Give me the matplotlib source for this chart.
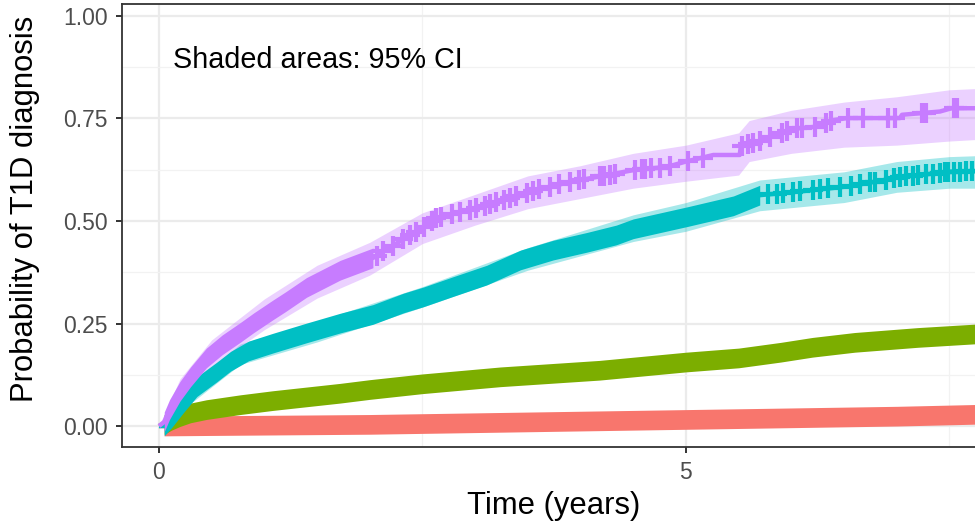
import numpy as np
import matplotlib
matplotlib.use("Agg")
import matplotlib.pyplot as plt

plt.rcParams["font.family"] = ["Liberation Sans", "DejaVu Sans"]

# ggplot default hues for the four strata
COLORS = ["#F8766D", "#7CAE00", "#00BFC4", "#C77CFF"]

# --- curve knots (time in years, cumulative probability) ---
red_t = [0, 0.05, 0.5, 1.0, 2.0, 3.0, 4.0, 5.0, 6.0, 7.0, 7.84]
red_p = [0, 0.0, 0.001, 0.002, 0.004, 0.008, 0.012, 0.016, 0.020, 0.024, 0.029]

green_t = [0, 0.05, 0.12, 0.2, 0.3, 0.45, 0.77, 1.08, 1.40, 1.72, 2.0, 2.5, 3.24,
           4.18, 5.0, 5.5, 5.9, 6.2, 6.6, 7.2, 7.84]
green_p = [0, 0.004, 0.014, 0.023, 0.032, 0.040, 0.052, 0.062, 0.071, 0.080, 0.089,
           0.103, 0.120, 0.136, 0.156, 0.166, 0.180, 0.192, 0.204, 0.216, 0.226]

cyan_t = [0, 0.05, 0.12, 0.23, 0.36, 0.55, 0.68, 0.85, 1.08, 1.40, 1.72, 2.03, 2.32,
          2.51, 2.79, 3.11, 3.43, 3.74, 4.06, 4.34, 4.50, 5.02, 5.45, 5.70, 6.08,
          6.56, 7.03, 7.50, 7.84]
cyan_p = [0, 0.0, 0.02, 0.056, 0.096, 0.132, 0.158, 0.183, 0.202, 0.227, 0.251, 0.272,
          0.300, 0.315, 0.340, 0.368, 0.405, 0.429, 0.448, 0.466, 0.481, 0.511, 0.537,
          0.563, 0.572, 0.585, 0.607, 0.620, 0.622]

purple_t = [0, 0.05, 0.1, 0.2, 0.3, 0.45, 0.6, 0.77, 0.9, 1.08, 1.2, 1.40, 1.72, 2.03,
            2.31, 2.50, 2.64, 2.95, 3.27, 3.58, 3.90, 4.21, 4.50, 4.82, 5.00, 5.26,
            5.51, 5.52, 5.67, 5.86, 6.02, 6.24, 6.40, 6.53, 7.03, 7.05, 7.41, 7.52,
            7.84]
purple_p = [0, 0.01, 0.04, 0.085, 0.12, 0.166, 0.198, 0.228, 0.252, 0.283, 0.303,
            0.338, 0.380, 0.410, 0.454, 0.483, 0.508, 0.527, 0.551, 0.576, 0.595,
            0.610, 0.624, 0.632, 0.645, 0.661, 0.661, 0.681, 0.693, 0.710, 0.725,
            0.730, 0.746, 0.751, 0.751, 0.759, 0.767, 0.775, 0.775]

# --- 95% CI ribbons ---
red_ci_t = [0, 2.5, 5.0, 7.84]
red_lo = [0, 0.003, 0.011, 0.020]
red_hi = [0, 0.009, 0.021, 0.038]

green_ci_t = [0, 1.0, 2.5, 5.0, 7.84]
green_lo = [0, 0.053, 0.094, 0.145, 0.210]
green_hi = [0, 0.073, 0.116, 0.169, 0.242]

cyan_ci_t = [0, 0.3, 0.77, 1.5, 2.5, 3.5, 4.5, 5.0, 5.7, 6.5, 7.0, 7.5, 7.84]
cyan_lo = [0, 0.055, 0.150, 0.205, 0.290, 0.380, 0.450, 0.475, 0.525, 0.545, 0.570, 0.580, 0.580]
cyan_hi = [0, 0.100, 0.200, 0.255, 0.340, 0.435, 0.515, 0.545, 0.600, 0.620, 0.645, 0.657, 0.660]

purple_ci_t = [0, 0.2, 0.5, 1.0, 1.5, 2.0, 2.5, 3.0, 3.5, 4.0, 4.5, 5.0, 5.5, 5.6,
               6.0, 6.5, 7.0, 7.5, 7.84]
purple_lo = [0, 0.060, 0.145, 0.235, 0.312, 0.368, 0.445, 0.490, 0.530, 0.555, 0.580,
             0.597, 0.612, 0.645, 0.665, 0.680, 0.685, 0.695, 0.700]
purple_hi = [0, 0.115, 0.210, 0.310, 0.392, 0.448, 0.520, 0.565, 0.610, 0.635, 0.665,
             0.685, 0.715, 0.745, 0.770, 0.790, 0.803, 0.820, 0.824]

# --- censoring: span where marks merge into a solid band, then single marks ---
red_dense = (0.05, 7.84)
green_dense = (0.05, 7.84)
cyan_dense = (0.05, 5.70)
purple_dense = (0.05, 2.03)

red_cens = []
green_cens = []
cyan_cens = [5.78, 5.86, 5.92, 6.02, 6.08, 6.21, 6.27, 6.35, 6.46, 6.57, 6.65, 6.75,
             6.79, 6.90, 6.97, 7.03, 7.09, 7.15, 7.20, 7.28, 7.34, 7.41, 7.46, 7.49,
             7.54, 7.60, 7.66, 7.71, 7.78]
purple_cens = [2.065, 2.13, 2.22, 2.32, 2.38, 2.44, 2.51, 2.59, 2.63, 2.68, 2.78, 2.86,
               2.95, 3.01, 3.09, 3.14, 3.20, 3.27, 3.33, 3.39, 3.49, 3.55, 3.61, 3.71,
               3.80, 3.90, 3.99, 4.03, 4.18, 4.22, 4.28, 4.33, 4.52, 4.58, 4.61, 4.67,
               4.75, 4.85, 5.02, 5.16, 5.53, 5.59, 5.64, 5.70, 5.80, 5.91, 5.96, 6.05,
               6.10, 6.22, 6.33, 6.38, 6.54, 6.68, 6.92, 6.98, 7.24, 7.28, 7.54, 7.57]

XTICKS = [0, 5]
XTICKLABELS = ["0", "5"]
YTICKS = [0, 0.25, 0.5, 0.75, 1.0]
YTICKLABELS = ["0.00", "0.25", "0.50", "0.75", "1.00"]

groups = [
    (red_t, red_p, red_ci_t, red_lo, red_hi, red_dense, red_cens),
    (green_t, green_p, green_ci_t, green_lo, green_hi, green_dense, green_cens),
    (cyan_t, cyan_p, cyan_ci_t, cyan_lo, cyan_hi, cyan_dense, cyan_cens),
    (purple_t, purple_p, purple_ci_t, purple_lo, purple_hi, purple_dense, purple_cens),
]

MARK_HALF = 0.024  # half height of a "+" censor mark, in data units

fig = plt.figure(figsize=(9.75, 5.29), dpi=100)
ax = fig.add_axes([0.1251, 0.155, 0.8851, 0.8365])

# ribbons first, then lines, then censor marks (ggsurvplot order)
for (t, p, ct, lo, hi, dense, cens), col in zip(groups, COLORS):
    ax.fill_between(ct, lo, hi, color=col, alpha=0.35, linewidth=0, zorder=2)

for (t, p, ct, lo, hi, dense, cens), col in zip(groups, COLORS):
    t = np.asarray(t)
    p = np.asarray(p)
    ax.plot(t, p, color=col, linewidth=3.2, zorder=3, solid_capstyle="butt")
    m = (t >= dense[0]) & (t <= dense[1])
    ax.fill_between(t[m], p[m] - MARK_HALF, p[m] + MARK_HALF, color=col,
                    linewidth=0, zorder=3)
    if cens:
        cy = np.interp(cens, t, p)
        ax.plot(cens, cy, linestyle="none", marker="+", markersize=14.5,
                markeredgewidth=3.0, color=col, zorder=4)

ax.text(0.133, 0.872, "Shaded areas: 95% CI", fontsize=20.7, color="black",
        ha="left", va="baseline", zorder=5)

ax.set_xlim(-0.351, 7.837)
ax.set_ylim(-0.0512, 1.028)

ax.set_xticks(XTICKS)
ax.set_xticklabels(XTICKLABELS)
ax.set_yticks(YTICKS)
ax.set_yticklabels(YTICKLABELS)
ax.set_xticks([2.5, 7.5], minor=True)
ax.set_yticks([0.125, 0.375, 0.625, 0.875], minor=True)

ax.grid(which="major", color="#EBEBEB", linewidth=1.6, zorder=0)
ax.grid(which="minor", color="#F2F2F2", linewidth=0.9, zorder=0)
ax.set_axisbelow(True)

ax.tick_params(which="major", length=4.3, width=1.4, color="#333333",
               labelsize=16.5, labelcolor="#4D4D4D", pad=6)
ax.tick_params(which="minor", length=0)

for side in ["top", "bottom", "left", "right"]:
    ax.spines[side].set_color("#333333")
    ax.spines[side].set_linewidth(1.3)

ax.set_xlabel("Time (years)", fontsize=22.3, color="black", labelpad=5)
ax.set_ylabel("Probability of T1D diagnosis", fontsize=22.3, color="black")
ax.yaxis.set_label_coords(-0.095, 0.538)

fig.savefig("out.png", dpi=100)
